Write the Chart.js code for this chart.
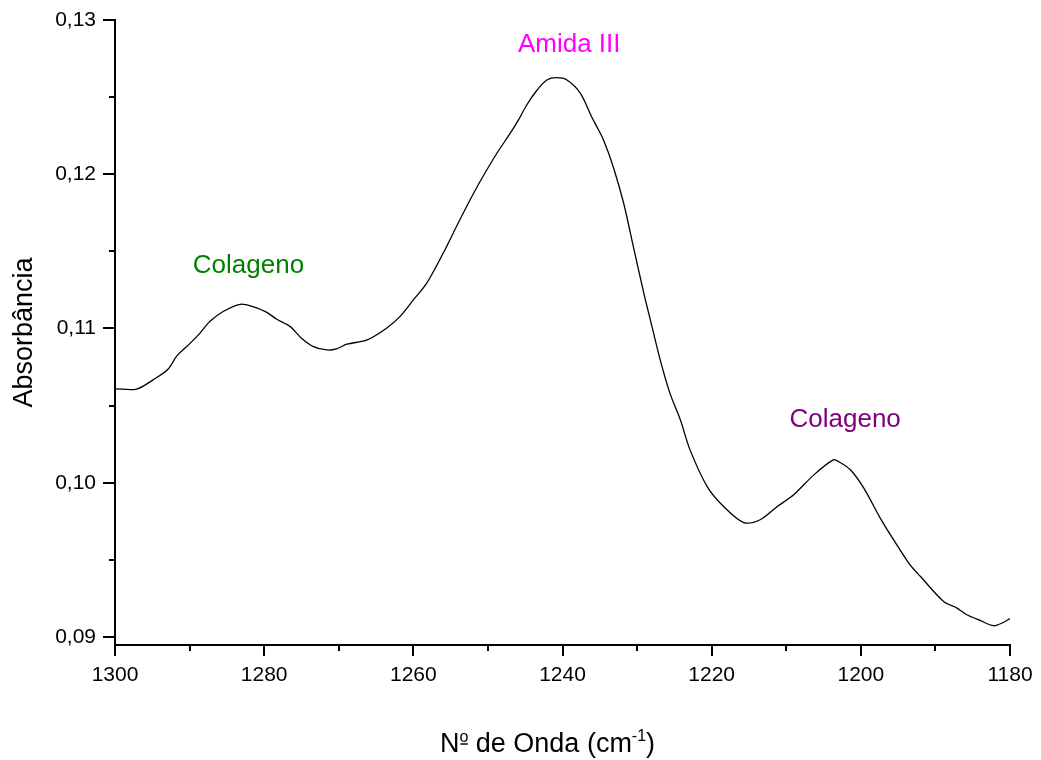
<!DOCTYPE html>
<html>
<head>
<meta charset="utf-8">
<script src="https://cdn.jsdelivr.net/npm/chart.js@4"></script>
<style>
  html, body { margin: 0; padding: 0; background: #fff; }
  #wrap { width: 1041px; height: 760px; }
</style>
</head>
<body>
<div id="wrap"><canvas id="c" width="1041" height="760"></canvas></div>
<script>
// ---- data ----
const wavenumber = [
  1300.0, 1297.1, 1294.9, 1292.9, 1291.7, 1289.9, 1288.6, 1287.3, 1285.5, 1283.2,
  1281.5, 1279.7, 1278.3, 1276.5, 1275.0, 1273.4, 1271.6, 1270.3, 1268.9, 1266.2,
  1263.6, 1261.8, 1260.0, 1258.2, 1256.0, 1254.0, 1252.4, 1250.8, 1248.8, 1247.0,
  1245.9, 1244.8, 1243.4, 1242.1, 1240.8, 1239.4, 1237.6, 1236.1, 1235.4, 1234.5,
  1233.2, 1231.8, 1230.5, 1229.1, 1228.0, 1226.9, 1225.6, 1224.2, 1222.9, 1220.6,
  1218.4, 1215.7, 1213.5, 1211.2, 1209.0, 1206.3, 1203.7, 1203.0, 1201.4, 1199.6,
  1197.4, 1195.6, 1193.4, 1192.0, 1188.9, 1187.1, 1185.8, 1184.0, 1182.2, 1180.9,
  1180.0
];
const absorbance = [
  0.10609, 0.10607, 0.10667, 0.10736, 0.10822, 0.10905, 0.10970, 0.11045, 0.11110, 0.11157,
  0.11142, 0.11106, 0.11060, 0.11012, 0.10937, 0.10883, 0.10861, 0.10868, 0.10898, 0.10926,
  0.11002, 0.11077, 0.11185, 0.11294, 0.11488, 0.11682, 0.11833, 0.11974, 0.12136, 0.12266,
  0.12352, 0.12449, 0.12546, 0.12611, 0.12626, 0.12611, 0.12525, 0.12373, 0.12309, 0.12222,
  0.12049, 0.11812, 0.11531, 0.11229, 0.11012, 0.10797, 0.10581, 0.10408, 0.10213, 0.09975,
  0.09846, 0.09742, 0.09760, 0.09846, 0.09922, 0.10051, 0.10148, 0.10138, 0.10084, 0.09965,
  0.09771, 0.09630, 0.09468, 0.09392, 0.09230, 0.09187, 0.09144, 0.09107, 0.09073, 0.09094,
  0.09120
];
const xTickValues = [1300, 1290, 1280, 1270, 1260, 1250, 1240, 1230, 1220, 1210, 1200, 1190, 1180];
const xMajorTicks = [1300, 1280, 1260, 1240, 1220, 1200, 1180];
const yTickValues = [0.09, 0.095, 0.10, 0.105, 0.11, 0.115, 0.12, 0.125, 0.13];
const yMajorTicks = [0.09, 0.10, 0.11, 0.12, 0.13];
const annotationTexts = ['Colageno', 'Amida III', 'Colageno'];
const annotationX = [1282.1, 1239.1, 1202.1];
const annotationY = [0.11358, 0.12795, 0.10364];
const annotationColors = ['#008000', '#ff00ff', '#800080'];
const yTitle = 'Absorbância';
const xTitleParts = ['N', 'o', ' de Onda (cm', '-1', ')'];

// ---- chart ----
const FONT = 'Arial, "Liberation Sans", sans-serif';
const isMajor = (v, list) => list.some(m => Math.abs(m - v) < 1e-9);

const extrasPlugin = {
  id: 'extras',
  afterDraw(chart) {
    const ctx = chart.ctx;
    const xs = chart.scales.x, ys = chart.scales.y;
    const area = chart.chartArea;
    ctx.save();
    // minor ticks
    ctx.strokeStyle = '#000';
    ctx.lineWidth = 2;
    ctx.beginPath();
    xTickValues.filter(v => !isMajor(v, xMajorTicks)).forEach(v => {
      const px = Math.round(xs.getPixelForValue(v));
      ctx.moveTo(px, area.bottom);
      ctx.lineTo(px, area.bottom + 6);
    });
    yTickValues.filter(v => !isMajor(v, yMajorTicks)).forEach(v => {
      const py = Math.round(ys.getPixelForValue(v));
      ctx.moveTo(area.left, py);
      ctx.lineTo(area.left - 6, py);
    });
    ctx.stroke();
    // annotations
    ctx.font = '26px ' + FONT;
    ctx.textAlign = 'center';
    ctx.textBaseline = 'alphabetic';
    annotationTexts.forEach((t, i) => {
      ctx.fillStyle = annotationColors[i];
      ctx.fillText(t, xs.getPixelForValue(annotationX[i]), ys.getPixelForValue(annotationY[i]));
    });
    // x title with superscripts
    ctx.fillStyle = '#000';
    ctx.strokeStyle = '#000';
    ctx.textAlign = 'left';
    const mainFont = '27px ' + FONT, supFont = '16px ' + FONT;
    const fonts = [mainFont, supFont, mainFont, supFont, mainFont];
    const raise = [0, 10, 0, 11, 0];
    const widths = xTitleParts.map((t, i) => { ctx.font = fonts[i]; return ctx.measureText(t).width; });
    const total = widths.reduce((a, b) => a + b, 0);
    const cx = (area.left + area.right) / 2 - 15;
    const base = 752;
    let x0 = cx - total / 2;
    xTitleParts.forEach((t, i) => {
      ctx.font = fonts[i];
      ctx.fillText(t, x0, base - raise[i]);
      if (i === 1) {
        ctx.lineWidth = 1.5;
        ctx.beginPath();
        ctx.moveTo(x0 + 1, base - 8);
        ctx.lineTo(x0 + widths[i] - 0.5, base - 8);
        ctx.stroke();
      }
      x0 += widths[i];
    });
    ctx.restore();
  }
};

new Chart(document.getElementById('c'), {
  type: 'line',
  data: {
    datasets: [{
      data: wavenumber.map((x, i) => ({ x: x, y: absorbance[i] })),
      borderColor: '#000',
      borderWidth: 1.3,
      pointRadius: 0,
      tension: 0.3,
      fill: false
    }]
  },
  options: {
    responsive: false,
    animation: false,
    layout: { padding: { top: 20, right: 31, left: 0, bottom: 0 } },
    plugins: { legend: { display: false }, tooltip: { enabled: false } },
    scales: {
      x: {
        type: 'linear',
        reverse: true,
        min: 1180,
        max: 1300,
        afterBuildTicks: s => { s.ticks = xTickValues.map(v => ({ value: v })); },
        afterFit: s => { s.height = 115; },
        border: { display: true, color: '#000', width: 2 },
        grid: {
          drawOnChartArea: false,
          drawTicks: true,
          tickLength: 11,
          lineWidth: 2,
          color: c => (c.tick && isMajor(c.tick.value, xMajorTicks)) ? '#000' : 'rgba(0,0,0,0)'
        },
        ticks: {
          autoSkip: false,
          maxRotation: 0,
          padding: 7,
          color: '#000',
          font: { family: FONT, size: 21 },
          callback: v => isMajor(v, xMajorTicks) ? String(v) : ''
        }
      },
      y: {
        type: 'linear',
        min: 0.08948,
        max: 0.13,
        afterBuildTicks: s => { s.ticks = yTickValues.map(v => ({ value: v })); },
        afterFit: s => { s.width = 115; },
        border: { display: true, color: '#000', width: 2 },
        grid: {
          drawOnChartArea: false,
          drawTicks: true,
          tickLength: 12,
          lineWidth: 2,
          color: c => (c.tick && isMajor(c.tick.value, yMajorTicks)) ? '#000' : 'rgba(0,0,0,0)'
        },
        ticks: {
          autoSkip: false,
          padding: 7,
          color: '#000',
          font: { family: FONT, size: 21 },
          callback: v => isMajor(v, yMajorTicks) ? v.toFixed(2).replace('.', ',') : ''
        },
        title: {
          display: true,
          text: yTitle,
          color: '#000',
          font: { family: FONT, size: 27 },
          padding: { top: 8, bottom: 0 }
        }
      }
    }
  },
  plugins: [extrasPlugin]
});
</script>
</body>
</html>
